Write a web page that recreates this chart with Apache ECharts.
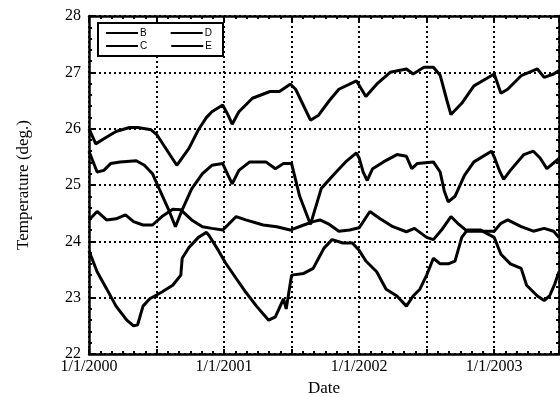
<!DOCTYPE html>
<html>
<head>
<meta charset="utf-8">
<script src="https://cdn.jsdelivr.net/npm/echarts@6/dist/echarts.min.js"></script>
<style>
html, body { margin: 0; padding: 0; background: #fff; }
#chart { width: 560px; height: 397px; }
</style>
</head>
<body>
<div id="chart"></div>
<script>
// time in decimal years, temperature in deg.
var bT = [2000.0, 2000.05, 2000.11, 2000.2, 2000.3, 2000.36, 2000.46, 2000.5, 2000.65, 2000.74, 2000.81, 2000.87, 2000.91, 2000.99, 2001.03, 2001.06, 2001.11, 2001.21, 2001.34, 2001.41, 2001.49, 2001.53, 2001.64, 2001.7, 2001.78, 2001.85, 2001.98, 2002.05, 2002.13, 2002.23, 2002.35, 2002.4, 2002.48, 2002.55, 2002.6, 2002.65, 2002.68, 2002.76, 2002.85, 2002.95, 2003.0, 2003.05, 2003.1, 2003.2, 2003.32, 2003.37, 2003.44, 2003.48];
var bV = [26.0, 25.73, 25.82, 25.95, 26.02, 26.02, 25.98, 25.9, 25.35, 25.65, 25.98, 26.2, 26.3, 26.42, 26.24, 26.08, 26.3, 26.54, 26.66, 26.66, 26.79, 26.7, 26.15, 26.24, 26.5, 26.7, 26.85, 26.57, 26.79, 27.0, 27.06, 26.97, 27.09, 27.09, 26.95, 26.5, 26.25, 26.45, 26.76, 26.9, 26.97, 26.63, 26.7, 26.94, 27.06, 26.91, 26.97, 27.03];

var cT = [2000.0, 2000.06, 2000.11, 2000.16, 2000.23, 2000.35, 2000.41, 2000.47, 2000.52, 2000.59, 2000.64, 2000.69, 2000.76, 2000.84, 2000.91, 2000.99, 2001.03, 2001.06, 2001.11, 2001.19, 2001.31, 2001.38, 2001.44, 2001.5, 2001.56, 2001.64, 2001.72, 2001.83, 2001.9, 2001.98, 2002.0, 2002.03, 2002.06, 2002.1, 2002.18, 2002.28, 2002.35, 2002.39, 2002.43, 2002.55, 2002.6, 2002.63, 2002.66, 2002.71, 2002.78, 2002.85, 2002.98, 2003.0, 2003.04, 2003.07, 2003.12, 2003.22, 2003.29, 2003.34, 2003.39, 2003.48];
var cV = [25.6, 25.23, 25.26, 25.38, 25.41, 25.43, 25.35, 25.2, 24.93, 24.56, 24.26, 24.56, 24.93, 25.2, 25.35, 25.38, 25.17, 25.02, 25.26, 25.41, 25.41, 25.29, 25.38, 25.38, 24.8, 24.3, 24.94, 25.23, 25.41, 25.57, 25.48, 25.23, 25.08, 25.29, 25.41, 25.54, 25.51, 25.29, 25.38, 25.41, 25.23, 24.9, 24.7, 24.8, 25.17, 25.41, 25.6, 25.5, 25.25, 25.1, 25.26, 25.54, 25.6, 25.48, 25.29, 25.47];

var dT = [2000.0, 2000.06, 2000.13, 2000.2, 2000.27, 2000.33, 2000.4, 2000.47, 2000.54, 2000.62, 2000.68, 2000.76, 2000.84, 2000.91, 2000.99, 2001.09, 2001.16, 2001.29, 2001.39, 2001.49, 2001.59, 2001.66, 2001.71, 2001.78, 2001.85, 2001.93, 2002.0, 2002.08, 2002.15, 2002.25, 2002.35, 2002.41, 2002.5, 2002.55, 2002.61, 2002.68, 2002.73, 2002.8, 2003.0, 2003.05, 2003.1, 2003.2, 2003.29, 2003.37, 2003.44, 2003.48];
var dV = [24.38, 24.53, 24.38, 24.4, 24.47, 24.35, 24.29, 24.29, 24.44, 24.57, 24.56, 24.38, 24.26, 24.23, 24.2, 24.44, 24.38, 24.29, 24.26, 24.2, 24.29, 24.35, 24.38, 24.3, 24.18, 24.2, 24.24, 24.53, 24.41, 24.26, 24.17, 24.23, 24.07, 24.03, 24.2, 24.44, 24.32, 24.18, 24.18, 24.32, 24.38, 24.26, 24.18, 24.23, 24.18, 24.07];

var eT = [2000.0, 2000.06, 2000.13, 2000.2, 2000.28, 2000.33, 2000.36, 2000.4, 2000.45, 2000.54, 2000.62, 2000.68, 2000.69, 2000.74, 2000.81, 2000.87, 2000.89, 2000.96, 2001.01, 2001.09, 2001.16, 2001.24, 2001.33, 2001.38, 2001.44, 2001.46, 2001.5, 2001.59, 2001.66, 2001.7, 2001.74, 2001.8, 2001.88, 2001.95, 2002.0, 2002.05, 2002.13, 2002.2, 2002.28, 2002.35, 2002.4, 2002.45, 2002.5, 2002.55, 2002.6, 2002.66, 2002.71, 2002.76, 2002.8, 2002.9, 2003.0, 2003.05, 2003.12, 2003.2, 2003.24, 2003.32, 2003.37, 2003.41, 2003.45, 2003.48];
var eV = [23.83, 23.46, 23.16, 22.85, 22.6, 22.5, 22.52, 22.85, 22.98, 23.1, 23.22, 23.4, 23.7, 23.89, 24.07, 24.16, 24.1, 23.83, 23.62, 23.34, 23.1, 22.85, 22.6, 22.66, 22.98, 22.8, 23.4, 23.43, 23.52, 23.7, 23.88, 24.03, 23.97, 23.97, 23.84, 23.65, 23.46, 23.15, 23.03, 22.85, 23.03, 23.15, 23.4, 23.7, 23.6, 23.6, 23.65, 24.07, 24.2, 24.2, 24.07, 23.77, 23.6, 23.52, 23.22, 23.03, 22.95, 23.03, 23.25, 23.46];

var xMin = 2000, xMax = 2003.48;
var yMin = 22, yMax = 28;

function pairs(t, v) {
	var out = [];
	for (var i = 0; i < t.length; i++) out.push([t[i], v[i]]);
	return out;
}

var serif = 'Liberation Serif';
var chart = echarts.init(document.getElementById('chart'));

function xAxisOpt(pos, show) {
	return {
		type: 'value', position: pos, min: xMin, max: xMax, interval: 0.5,
		axisLine: { show: true, lineStyle: { color: '#000', width: 2.5 } },
		axisTick: { show: true, inside: true, length: 5, lineStyle: { color: '#000', width: 2 } },
		minorTick: { show: true, splitNumber: 6, length: 3, lineStyle: { color: '#000', width: 2 } },
		splitLine: { show: show, lineStyle: { color: '#000', width: 2, type: [2, 3] } },
		axisLabel: {
			show: show, color: '#000', fontFamily: serif, fontSize: 16, margin: 5,
			showMaxLabel: false,
			formatter: function(v) {
				return Math.abs(v - Math.round(v)) < 1e-6 ? '1/1/' + Math.round(v) : '';
			}
		},
		name: show ? 'Date' : '', nameLocation: 'middle', nameGap: 25,
		nameTextStyle: { color: '#000', fontFamily: serif, fontSize: 17 }
	};
}

function yAxisOpt(pos, show) {
	return {
		type: 'value', position: pos, min: yMin, max: yMax, interval: 1,
		axisLine: { show: true, lineStyle: { color: '#000', width: 2.5 } },
		axisTick: { show: true, inside: true, length: 5, lineStyle: { color: '#000', width: 2 } },
		minorTick: { show: true, splitNumber: 5, length: 3, lineStyle: { color: '#000', width: 2 } },
		splitLine: { show: show, lineStyle: { color: '#000', width: 2, type: [2, 3] } },
		axisLabel: { show: show, color: '#000', fontFamily: serif, fontSize: 16, margin: 8 },
		name: show ? 'Temperature (deg.)' : '', nameLocation: 'middle', nameGap: 57,
		nameTextStyle: { color: '#000', fontFamily: serif, fontSize: 17 }
	};
}

var lineStyle = { color: '#000', width: 3 };
function mkSeries(name, t, v) {
	return {
		name: name, type: 'line', data: pairs(t, v),
		symbol: 'none', lineStyle: lineStyle, itemStyle: { color: '#000' },
		animation: false
	};
}

var legendBase = {
	orient: 'horizontal', left: 106, itemWidth: 32, itemHeight: 2, itemGap: 24,
	icon: 'rect', selectedMode: false, padding: 0,
	textStyle: { color: '#000', fontFamily: 'Liberation Sans', fontSize: 10, padding: [0, 0, 0, -3] }
};

function $legend(names, top) {
	var l = echarts.util.merge({}, legendBase, true);
	l.data = names;
	l.top = top;
	l.z = 20;
	return l;
}

var option = {
	backgroundColor: '#fff',
	animation: false,
	grid: { left: 89, right: 1, top: 16, bottom: 43, outerBoundsMode: 'none', containLabel: false },
	xAxis: [xAxisOpt('bottom', true), xAxisOpt('top', false)],
	yAxis: [yAxisOpt('left', true), yAxisOpt('right', false)],
	graphic: [
		{ type: 'rect', left: 97, top: 22, z: 10,
		  shape: { width: 125, height: 33 },
		  style: { fill: '#fff', stroke: '#000', lineWidth: 2 } }
	],
	legend: [
		$legend(['B', 'D'], 28),
		$legend(['C', 'E'], 41)
	],
	series: [
		mkSeries('B', bT, bV),
		mkSeries('C', cT, cV),
		mkSeries('D', dT, dV),
		mkSeries('E', eT, eV)
	]
};

chart.setOption(option);
</script>
</body>
</html>
